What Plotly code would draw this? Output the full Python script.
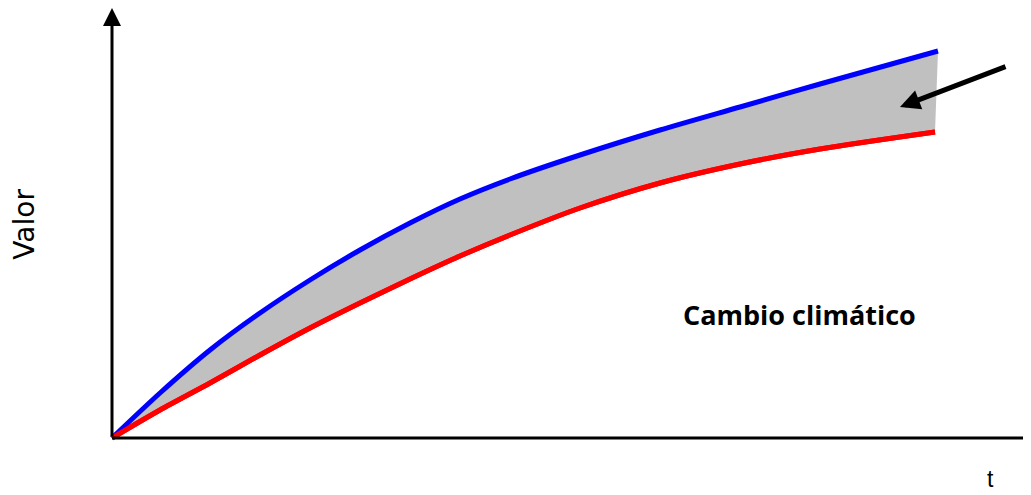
import plotly.graph_objects as go

# Data (t and Valor in arbitrary units)
t_blue = [0, 0.48, 0.98, 1.48, 1.98, 2.48, 2.98, 3.48, 3.98, 4.68, 5.48, 6.28, 7.08, 8.26]
v_blue = [0, 0.45, 0.88, 1.25, 1.58, 1.88, 2.15, 2.39, 2.59, 2.83, 3.08, 3.31, 3.54, 3.87]
t_red = [0, 0.48, 0.98, 1.48, 1.98, 2.48, 2.98, 3.48, 3.98, 4.68, 5.48, 6.28, 7.08, 8.23]
v_red = [0, 0.28, 0.55, 0.83, 1.10, 1.35, 1.59, 1.82, 2.03, 2.30, 2.55, 2.74, 2.89, 3.06]

label_text = "Cambio climático"
x_title = "t"
y_title = "Valor"

fig = go.Figure()
fig.add_trace(go.Scatter(x=t_red, y=v_red, mode="lines",
                         line=dict(color="#ff0000", width=5, shape="spline", smoothing=0.8),
                         hoverinfo="skip", showlegend=False))
fig.add_trace(go.Scatter(x=t_blue, y=v_blue, mode="lines", fill="tonexty",
                         fillcolor="#c0c0c0",
                         line=dict(color="#0000ff", width=5, shape="spline", smoothing=0.8),
                         hoverinfo="skip", showlegend=False))
fig.add_trace(go.Scatter(x=t_red, y=v_red, mode="lines",
                         line=dict(color="#ff0000", width=5, shape="spline", smoothing=0.8),
                         hoverinfo="skip", showlegend=False))

# x axis line
fig.add_shape(type="line", x0=0, y0=0, x1=9.19, y1=0, xref="x", yref="y",
              line=dict(color="black", width=3))

annotations = [
    # y axis with arrowhead
    dict(x=0, y=4.30, ax=0, ay=0, xref="x", yref="y", axref="x", ayref="y",
         text="", showarrow=True, arrowhead=2, arrowsize=1.2, arrowwidth=3,
         arrowcolor="black", standoff=0),
    # pointer arrow
    dict(x=7.88, y=3.31, ax=8.95, ay=3.72, xref="x", yref="y", axref="x", ayref="y",
         text="", showarrow=True, arrowhead=2, arrowsize=0.8, arrowwidth=5,
         arrowcolor="black", standoff=0),
    dict(x=6.87, y=1.235, xref="x", yref="y", text="<b>" + label_text + "</b>",
         showarrow=False, xanchor="center", yanchor="middle",
         font=dict(family="Open Sans", size=27, color="black")),
    dict(x=0.956, y=-0.0656, xref="paper", yref="paper", text=x_title, showarrow=False,
         xanchor="center", yanchor="middle", borderpad=0,
         font=dict(family="Liberation Sans", size=23, color="black")),
    dict(x=-0.0811, y=0.511, xref="paper", yref="paper", text=y_title, showarrow=False,
         xanchor="center", yanchor="middle",
         textangle=-90, font=dict(family="DejaVu Sans", size=28, color="black")),
]

fig.update_layout(
    width=1023, height=487,
    margin=dict(l=92, r=0, t=0, b=45),
    paper_bgcolor="white", plot_bgcolor="white",
    xaxis=dict(range=[-0.12, 9.19], visible=False, fixedrange=True),
    yaxis=dict(range=[-0.12, 4.30], visible=False, fixedrange=True),
    annotations=annotations,
    showlegend=False,
)

fig.write_html("out.html")
